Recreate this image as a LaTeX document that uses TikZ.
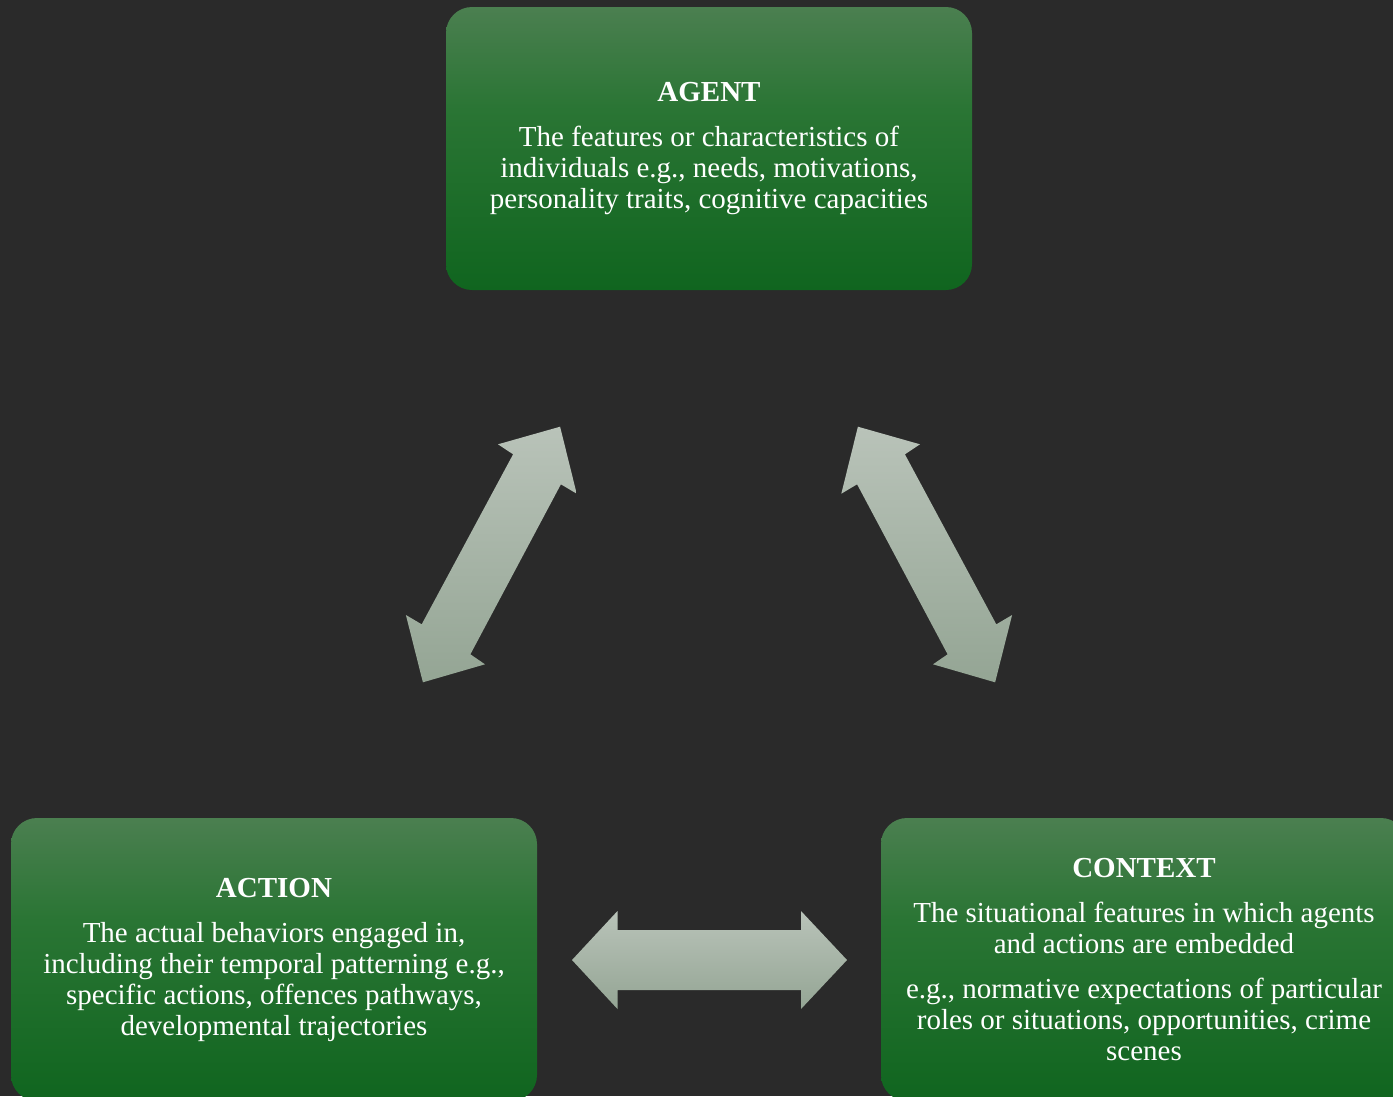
\documentclass[tikz,border=0pt]{standalone}
\usepackage{fontspec}
\setmainfont{Liberation Serif}
\definecolor{bg}{HTML}{2A2A2A}
\definecolor{gtop}{HTML}{4B7F50}
\definecolor{gmid}{HTML}{2A7534}
\definecolor{gbot}{HTML}{10651F}
\definecolor{atop}{HTML}{B9C3B9}
\definecolor{abot}{HTML}{94A594}
\pgfdeclareverticalshading{boxshade}{100bp}{color(0bp)=(gbot); color(25bp)=(gbot); color(57bp)=(gmid); color(75bp)=(gtop); color(100bp)=(gtop)}
\begin{document}
\begin{tikzpicture}[x=1pt,y=-1pt,
  box/.style={shading=boxshade, rounded corners=26pt, minimum width=526pt,
    minimum height=283pt, text=white, align=center, inner sep=0pt,
    font=\fontsize{29pt}{31pt}\selectfont},
  arrowfill/.style={top color=atop, bottom color=abot, draw=none}]
\fill[bg] (0,0) rectangle (1393,1096);
\useasboundingbox (0,0) rectangle (1393,1096);
\clip (0,0) rectangle (1393,1096);

\node[box] (agent) at (709,148.5) {{\bfseries AGENT}\\[14pt]The features or characteristics of\\individuals e.g., needs, motivations,\\personality traits, cognitive capacities};
\node[box] (action) at (274,959.5) {{\bfseries ACTION}\\[14pt]The actual behaviors engaged in,\\including their temporal patterning e.g.,\\specific actions, offences pathways,\\developmental trajectories};
\node[box] (context) at (1144,959.5) {{\bfseries CONTEXT}\\[14pt]The situational features in which agents\\and actions are embedded\\[14pt]e.g., normative expectations of particular\\roles or situations, opportunities, crime\\scenes};

% arrow tips
\coordinate (la-top) at (560.1,426.7);
\coordinate (la-bot) at (422.9,682.3);
\coordinate (ra-top) at (857.9,426.7);
\coordinate (ra-bot) at (995.1,682.3);
\coordinate (ha-left) at (572,960);
\coordinate (ha-right) at (847,960);

% agent <-> action
\path[arrowfill] (la-top) -- (576.7,493.7) -- (560.9,484.3) -- (470.4,654.3) -- (485,664.3)
  -- (la-bot) -- (405.9,615) -- (421.7,624.3) -- (513.1,454.3) -- (498,444.3) -- cycle;
% agent <-> context
\path[arrowfill] (ra-top) -- (841.3,493.7) -- (857.1,484.3) -- (947.6,654.3) -- (933,664.3)
  -- (ra-bot) -- (1012.1,615) -- (996.3,624.3) -- (904.9,454.3) -- (920,444.3) -- cycle;
% action <-> context
\path[arrowfill] (ha-left) -- (617.5,911) -- (617.5,930) -- (801,930) -- (801,911)
  -- (ha-right) -- (801,1009) -- (801,990) -- (617.5,990) -- (617.5,1009) -- cycle;
\end{tikzpicture}
\end{document}
